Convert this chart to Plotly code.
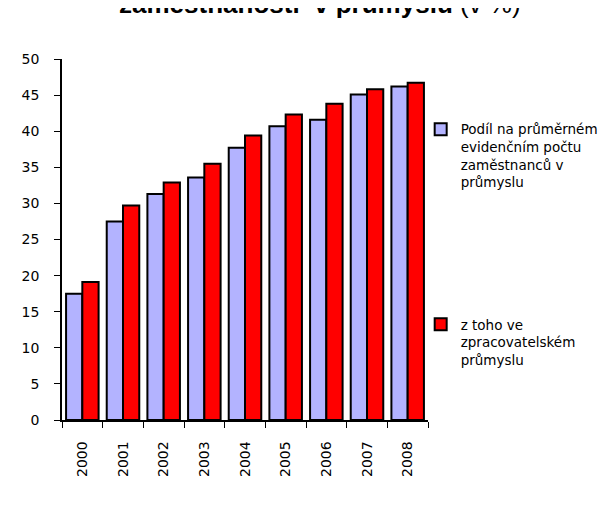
import plotly.graph_objects as go

years = ["2000", "2001", "2002", "2003", "2004", "2005", "2006", "2007", "2008"]
podil_prumysl = [17.5, 27.5, 31.3, 33.6, 37.7, 40.7, 41.6, 45.1, 46.2]
podil_zpracovatelsky = [19.1, 29.7, 32.9, 35.5, 39.4, 42.3, 43.8, 45.8, 46.7]
name1 = "Podíl na průměrném<br>evidenčním počtu<br>zaměstnanců v<br>průmyslu"
name2 = "z toho ve<br>zpracovatelském<br>průmyslu"
title_text = "<b>zaměstnanosti  v průmyslu</b> (v %)"

font = "Liberation Sans, Arial, sans-serif"
tfont = "DejaVu Sans, Verdana, sans-serif"

fig = go.Figure()
fig.add_trace(go.Bar(x=years, y=podil_prumysl, name=name1, legendgroup="a",
                     marker=dict(color="#B3B3FF", line=dict(color="black", width=2))))
fig.add_trace(go.Bar(x=years, y=podil_zpracovatelsky, name=name2, legendgroup="b",
                     marker=dict(color="#FF0000", line=dict(color="black", width=2))))

fig.update_layout(
    width=607, height=499,
    margin=dict(l=54, r=183, t=51, b=87),
    paper_bgcolor="white", plot_bgcolor="white",
    barmode="group", bargap=0.2, bargroupgap=0,
    font=dict(family=tfont, size=14, color="black"),
    showlegend=True,
    legend=dict(x=0.98, y=0.848, xanchor="left", yanchor="top",
                font=dict(family=tfont, size=13.5, color="black"),
                tracegroupgap=122, itemwidth=30, traceorder="grouped", valign="top",
                bgcolor="rgba(0,0,0,0)"),
    annotations=[dict(text=title_text, xref="paper", yref="paper",
                      x=0.704, y=1.0, yshift=55, xanchor="center", yanchor="middle",
                      showarrow=False, font=dict(family=font, size=26, color="black"))],
)
fig.update_xaxes(showline=True, linecolor="black", linewidth=1.5, automargin=False,
                 ticks="outside", tickson="boundaries", ticklen=6, tickcolor="black",
                 tickangle=-90, tickfont=dict(size=14), showgrid=False,
                 ticklabelstandoff=14)
fig.update_yaxes(range=[0, 50], dtick=5, showline=True, linecolor="black", linewidth=1.5,
                 automargin=False, ticks="outside", ticklen=6, tickcolor="black",
                 showgrid=False, tickfont=dict(size=14), zeroline=False,
                 ticklabelstandoff=12)

fig.write_html("out.html")
